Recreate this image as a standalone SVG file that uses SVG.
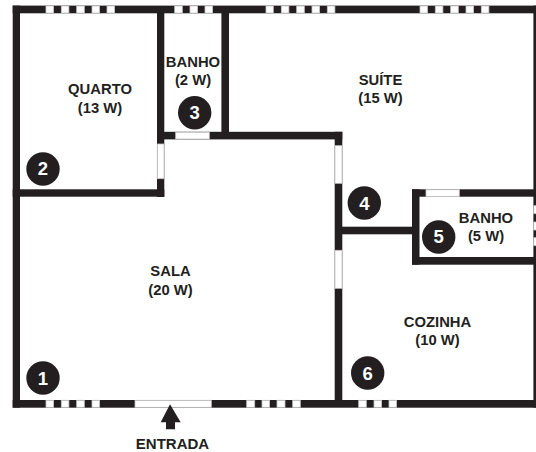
<svg xmlns="http://www.w3.org/2000/svg" width="536" height="452" viewBox="0 0 536 452">
<style>
.w{fill:#231f20}
.o{fill:#fff;stroke:#c4c4c4;stroke-width:.8}
text{font-family:"Liberation Sans",Arial,sans-serif;font-weight:700;font-size:14.8px;fill:#231f20;text-anchor:middle}
.n{font-size:18.5px;fill:#fff}
circle{fill:#231f20}
</style>
<rect width="536" height="452" fill="#fff"/>
<g id="walls">
<rect class="w" x="12.7" y="5.6" width="523.3" height="7.7"/>
<rect class="w" x="12.7" y="5.6" width="7.3" height="402"/>
<rect class="w" x="12.7" y="400" width="523.3" height="7.7"/>
<rect class="w" x="533.4" y="5.6" width="2.6" height="402"/>
<rect class="w" x="157" y="13" width="7.3" height="184"/>
<rect class="w" x="12.7" y="189.3" width="151.6" height="7.4"/>
<rect class="w" x="221.4" y="13" width="7.6" height="126"/>
<rect class="w" x="157" y="131.8" width="185.3" height="7.6"/>
<rect class="w" x="334.7" y="131.8" width="7.6" height="275"/>
<rect class="w" x="342" y="226.7" width="72" height="7.6"/>
<rect class="w" x="412" y="189.3" width="7.5" height="75.4"/>
<rect class="w" x="412" y="189.3" width="124" height="7.4"/>
<rect class="w" x="412" y="257" width="124" height="7.7"/>
</g>
<g id="openings">
<rect class="o" x="46" y="6" width="7.6" height="7"/><rect class="o" x="61.3" y="6" width="7.6" height="7"/><rect class="o" x="76.7" y="6" width="7.6" height="7"/><rect class="o" x="92" y="6" width="7.6" height="7"/><rect class="o" x="107" y="6" width="7.6" height="7"/>
<rect class="o" x="174.7" y="6" width="7.6" height="7"/><rect class="o" x="190" y="6" width="7.6" height="7"/><rect class="o" x="205" y="6" width="7.6" height="7"/>
<rect class="o" x="266" y="6" width="7.3" height="7"/><rect class="o" x="281.3" y="6" width="7.6" height="7"/><rect class="o" x="296.7" y="6" width="7.6" height="7"/><rect class="o" x="312" y="6" width="7.6" height="7"/><rect class="o" x="327.3" y="6" width="7.6" height="7"/>
<rect class="o" x="420" y="6" width="7.6" height="7"/><rect class="o" x="435.3" y="6" width="7.6" height="7"/><rect class="o" x="450.7" y="6" width="7.6" height="7"/><rect class="o" x="466" y="6" width="7.6" height="7"/><rect class="o" x="481.3" y="6" width="7.6" height="7"/>
<rect class="o" x="46" y="400.3" width="7.6" height="7"/><rect class="o" x="61.3" y="400.3" width="7.6" height="7"/><rect class="o" x="76.7" y="400.3" width="7.6" height="7"/><rect class="o" x="92" y="400.3" width="7.6" height="7"/>
<rect class="o" x="135" y="400.3" width="76.3" height="7"/>
<rect class="o" x="246.7" y="400.3" width="8" height="7"/><rect class="o" x="262" y="400.3" width="7.6" height="7"/><rect class="o" x="277" y="400.3" width="8" height="7"/><rect class="o" x="292.7" y="400.3" width="7.6" height="7"/>
<rect class="o" x="358.7" y="400.3" width="7.6" height="7"/><rect class="o" x="374" y="400.3" width="7.6" height="7"/><rect class="o" x="389" y="400.3" width="7.6" height="7"/>
<rect class="o" x="157.3" y="144" width="6.7" height="34.7"/>
<rect class="o" x="175.7" y="132.2" width="33.6" height="6.8"/>
<rect class="o" x="335" y="145.7" width="7" height="37.6"/>
<rect class="o" x="335" y="250.3" width="7" height="38"/>
<rect class="o" x="426" y="189.7" width="33.3" height="6.8"/>
<rect class="o" x="533.8" y="205.7" width="3" height="8"/><rect class="o" x="533.8" y="222" width="3" height="8"/><rect class="o" x="533.8" y="237.7" width="3" height="8"/>
</g>
<g id="entrada">
<polygon class="w" points="170,404.3 160.7,422.3 166,422.3 166,429.3 175,429.3 175,422.3 180.7,422.3"/>
<text x="172.5" y="448.5" style="font-size:15px">ENTRADA</text>
</g>
<g id="quarto"><text x="100" y="94">QUARTO</text><text x="100" y="113">(13 W)</text></g>
<g id="banho1"><text x="193" y="67">BANHO</text><text x="193" y="85">(2 W)</text></g>
<g id="suite"><text x="380.5" y="85">SUÍTE</text><text x="380.5" y="103">(15 W)</text></g>
<g id="sala"><text x="170.5" y="276">SALA</text><text x="170.5" y="295">(20 W)</text></g>
<g id="banho2"><text x="486" y="222.5">BANHO</text><text x="486" y="241">(5 W)</text></g>
<g id="cozinha"><text x="437.5" y="327">COZINHA</text><text x="437.5" y="345">(10 W)</text></g>
<g id="n1"><circle cx="43" cy="378" r="16.7"/><text class="n" x="43" y="385">1</text></g>
<g id="n2"><circle cx="43" cy="169" r="16.7"/><text class="n" x="43" y="175.3">2</text></g>
<g id="n3"><circle cx="194.7" cy="112.7" r="16.7"/><text class="n" x="194.7" y="119.3">3</text></g>
<g id="n4"><circle cx="364.3" cy="203" r="16.7"/><text class="n" x="364.3" y="210">4</text></g>
<g id="n5"><circle cx="438.7" cy="237" r="16.7"/><text class="n" x="438.7" y="243">5</text></g>
<g id="n6"><circle cx="367.7" cy="373" r="16.7"/><text class="n" x="367.7" y="379.5">6</text></g>
</svg>
